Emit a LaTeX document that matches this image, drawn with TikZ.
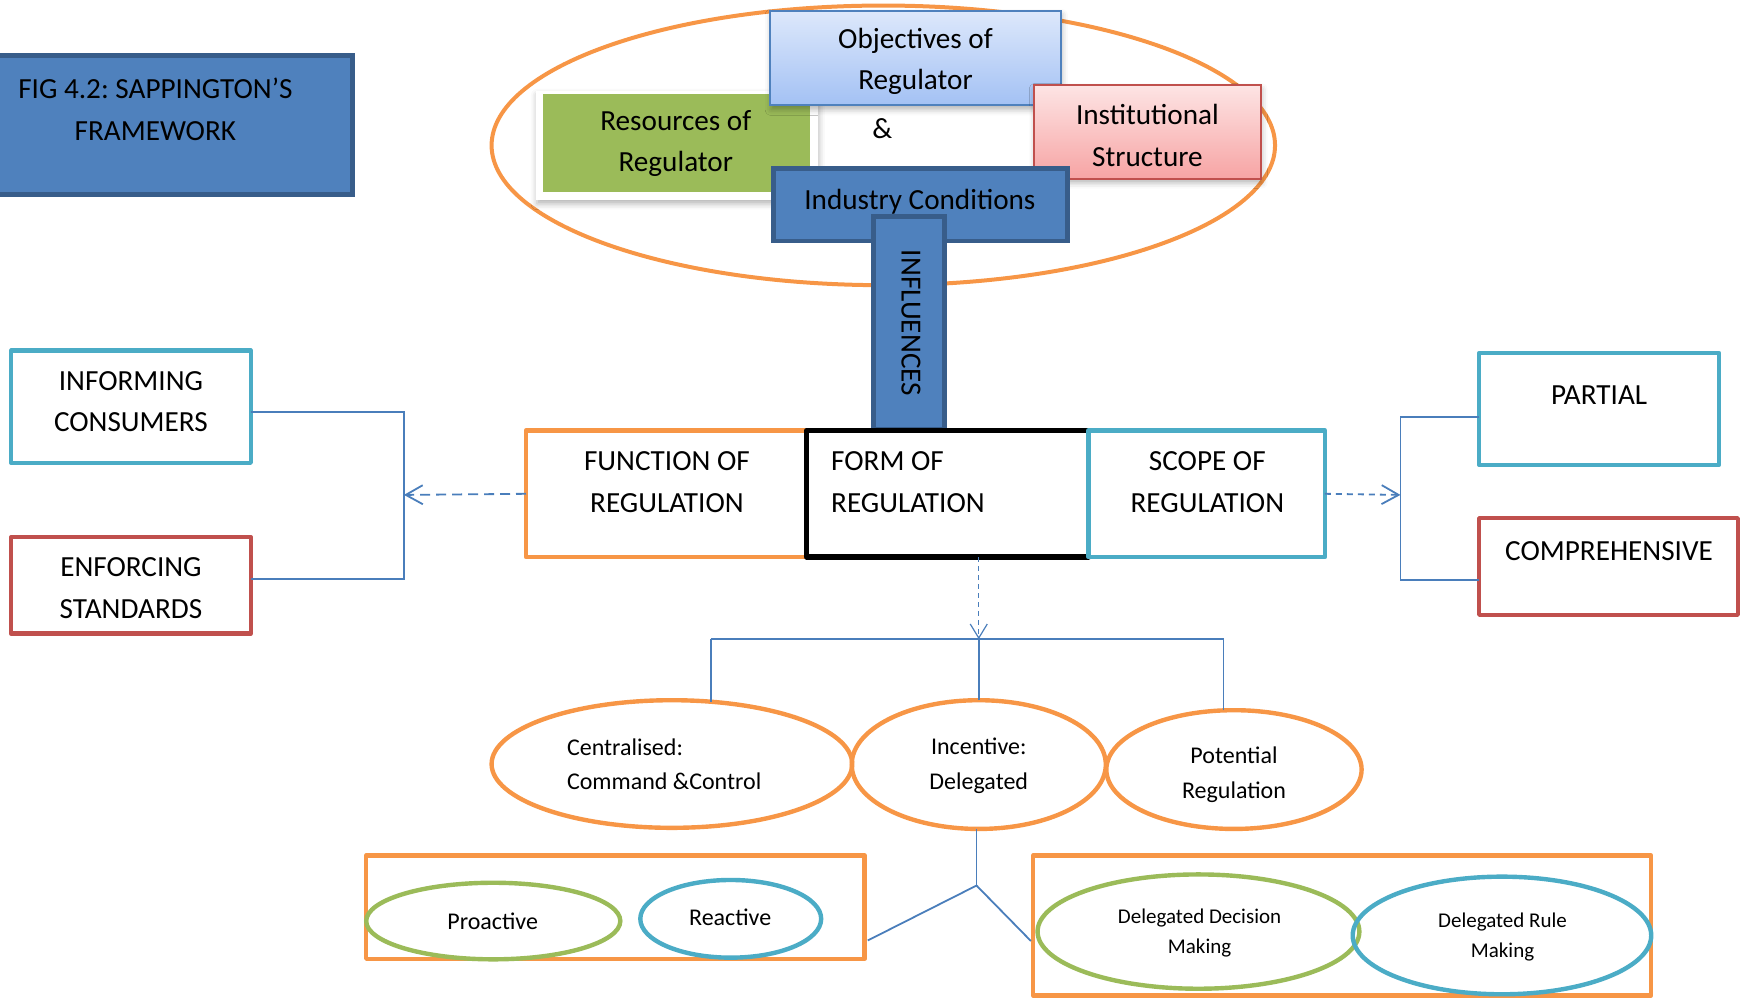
\documentclass[tikz,border=0pt]{standalone}
\usepackage{fontspec}
\setmainfont{Carlito}
\usetikzlibrary{arrows.meta,calc,shadows.blur,shapes.geometric}
\frenchspacing

\definecolor{cOrange}{HTML}{F79646}
\definecolor{cCyan}{HTML}{4BACC6}
\definecolor{cRed}{HTML}{C0504D}
\definecolor{cBlue}{HTML}{4F81BD}
\definecolor{cBlueDark}{HTML}{385D8A}
\definecolor{cGreen}{HTML}{9BBB59}
\definecolor{cLink}{HTML}{4A7EBB}
\definecolor{objTop}{HTML}{DDE8FB}
\definecolor{objBot}{HTML}{A3C1F4}
\definecolor{insTop}{HTML}{FDE4E4}
\definecolor{insBot}{HTML}{F7A4A4}

\def\uu{0.555pt}

\begin{document}
\begin{tikzpicture}[x=0.555pt,y=-0.555pt,
  every node/.style={inner sep=0pt, outer sep=0pt},
  bigfont/.style={font=\fontsize{14.6}{20.7}\selectfont},
  midfont/.style={font=\fontsize{12}{17.2}\selectfont},
  smallfont/.style={font=\fontsize{10.5}{15}\selectfont},
  sized/.style 2 args={minimum width=#1*\uu, minimum height=#2*\uu},
  framebox/.style={draw, line width=2.2pt, fill=white, line join=round},
  ring/.style={ellipse, draw, line width=2.2pt},
  softshadow/.style={blur shadow={shadow xshift=0.5pt, shadow yshift=-2pt,
      shadow blur radius=3pt, shadow opacity=30}},
  link/.style={draw=cLink, line width=0.9pt},
  dlink/.style={link, dash pattern=on 5pt off 3pt,
      -{Straight Barb[length=8.5pt,width=9.5pt]}},
]
\useasboundingbox (0,0) rectangle (1568,899);

% ---------- title ----------
\node[sized={322}{125}, fill=cBlue, draw=cBlueDark, line width=2.4pt] (title) at (157,112.5) {};
\node[bigfont, align=center] (titleT) at (140,98.5) {FIG 4.2: SAPPINGTON’S\\FRAMEWORK};

% ---------- determinants of regulation ----------
\node[ellipse, sized={706}{252}, draw=cOrange, line width=2pt] (det) at (796,131) {};

\node[sized={254}{98}, fill=white, softshadow] (resPanel) at (610,131) {};
\node[sized={241}{88}, fill=cGreen] (res) at (609.5,129) {};
\node[bigfont, align=center] (resT) at (609,129.5) {Resources of\\Regulator};

\node[sized={262}{85}, top color=objTop, bottom color=objBot, draw=cBlue, line width=1pt, softshadow] (obj) at (825,52.5) {};
\node[bigfont, align=center] (objT) at (825,55.5) {Objectives of\\Regulator};

\node[bigfont] (amp) at (795,116) {\&};

\node[sized={204}{84}, top color=insTop, bottom color=insBot, draw=cRed, line width=1pt, softshadow] (ins) at (1034,119) {};
\node[bigfont, align=center] (insT) at (1034,122) {Institutional\\Structure};

\node[sized={265}{65}, fill=cBlue, draw=cBlueDark, line width=2.2pt] (ind) at (829.5,184.5) {};
\node[bigfont] (indT) at (829,182) {Industry Conditions};

\node[sized={64}{192}, fill=cBlue, draw=cBlueDark, line width=2.2pt] (infl) at (819,291) {};
\node[bigfont, rotate=-90] (inflT) at (821,291) {INFLUENCES};

% ---------- regulation boxes ----------
\node[framebox, draw=cOrange, sized={253}{114}] (fun) at (600.5,445) {};
\node[bigfont, align=center] (funT) at (601,434.5) {FUNCTION OF\\REGULATION};

\node[framebox, draw=black, line width=2.7pt, sized={254}{114}] (form) at (854,445) {};
\node[bigfont, align=left, anchor=west] (formT) at (749,434.5) {FORM OF\\REGULATION};

\node[framebox, draw=cCyan, sized={213}{114}] (sco) at (1087.5,445) {};
\node[bigfont, align=center] (scoT) at (1088,434.5) {SCOPE OF\\REGULATION};

% ---------- functions ----------
\node[framebox, draw=cCyan, sized={216}{101}] (inf) at (118,366.5) {};
\node[bigfont, align=center] (infT) at (118,362) {INFORMING\\CONSUMERS};

\node[framebox, draw=cRed, sized={216}{87}] (enf) at (118,527.5) {};
\node[bigfont, align=center] (enfT) at (118,530) {ENFORCING\\STANDARDS};

% ---------- scope ----------
\node[framebox, draw=cCyan, sized={216}{101}] (par) at (1441,368.5) {};
\node[bigfont] (parT) at (1441,356) {PARTIAL};

\node[framebox, draw=cRed, sized={233}{87}] (com) at (1449.5,510.5) {};
\node[bigfont] (comT) at (1450,497) {COMPREHENSIVE};

% ---------- forms ----------
\node[ring, draw=cOrange, sized={325}{115}] (cen) at (605.5,688.5) {};
\node[midfont, align=left, anchor=west] (cenT) at (511,688.5) {Centralised:\\Command \&Control};

\node[ring, draw=cOrange, sized={229}{116}] (inc) at (882,689) {};
\node[midfont, align=center] (incT) at (882,690) {Incentive:\\Delegated};

\node[ring, draw=cOrange, sized={230}{107}] (pot) at (1112,693.5) {};
\node[midfont, align=center] (potT) at (1112,698) {Potential\\Regulation};

% ---------- kinds of regulation ----------
\node[framebox, draw=cOrange, sized={449}{93}] (lbox) at (554.5,817.5) {};
\node[ring, draw=cGreen, sized={229}{69}] (pro) at (444.5,830) {};
\node[midfont] (proT) at (444,830) {Proactive};
\node[ring, draw=cCyan, sized={163}{70}] (rea) at (658.5,828) {};
\node[midfont] (reaT) at (658,827) {Reactive};

\node[framebox, draw=cOrange, sized={557}{126}] (rbox) at (1209.5,834) {};
\node[ring, draw=cGreen, sized={290}{103}] (ddm) at (1080,839.5) {};
\node[smallfont, align=center] (ddmT) at (1081,840.5) {Delegated Decision\\Making};
\node[ring, draw=cCyan, sized={269}{106}] (drm) at (1353.5,843) {};
\node[smallfont, align=center] (drmT) at (1354,844.5) {Delegated Rule\\Making};

% ---------- connectors ----------
\coordinate (jl) at (364,446);
\coordinate (jr) at (1262,446);
\coordinate (jd) at (882,576);
\coordinate (jb) at (880,798);

% attachment points on the box sides
\coordinate (infP) at ($(inf.east)+(0,5)$);
\coordinate (enfP) at ($(enf.east)+(0,-6)$);
\coordinate (parP) at ($(par.west)+(0,7)$);
\coordinate (comP) at ($(com.west)+(0,12)$);
\coordinate (lboxP) at ($(lbox.east)+(3,30)$);
\coordinate (rboxP) at ($(rbox.west)+(-2,14)$);

\draw[dlink] (fun.west) -- (jl);
\draw[link] (infP) -- (infP -| jl) -- (enfP -| jl) -- (enfP);

\draw[dlink, dash pattern=on 3pt off 2.5pt] (sco.east) -- (jr);
\draw[link] (parP) -- (parP -| jr) -- (comP -| jr) -- (comP);

\draw[link, line width=0.6pt, dash pattern=on 2.5pt off 2pt,
      -{Straight Barb[length=7pt,width=8.5pt]}] (form.south -| jd) -- (jd);
\draw[link] (cen.58 |- jd) -- (pot.100 |- jd);
\draw[link] (cen.58) -- (cen.58 |- jd);
\draw[link] (inc.north) -- (jd);
\draw[link] (pot.100) -- (pot.100 |- jd);

\draw[link] (inc.south -| jb) -- (jb);
\draw[link] (jb) -- (lboxP);
\draw[link] (jb) -- (rboxP);
\end{tikzpicture}
\end{document}
